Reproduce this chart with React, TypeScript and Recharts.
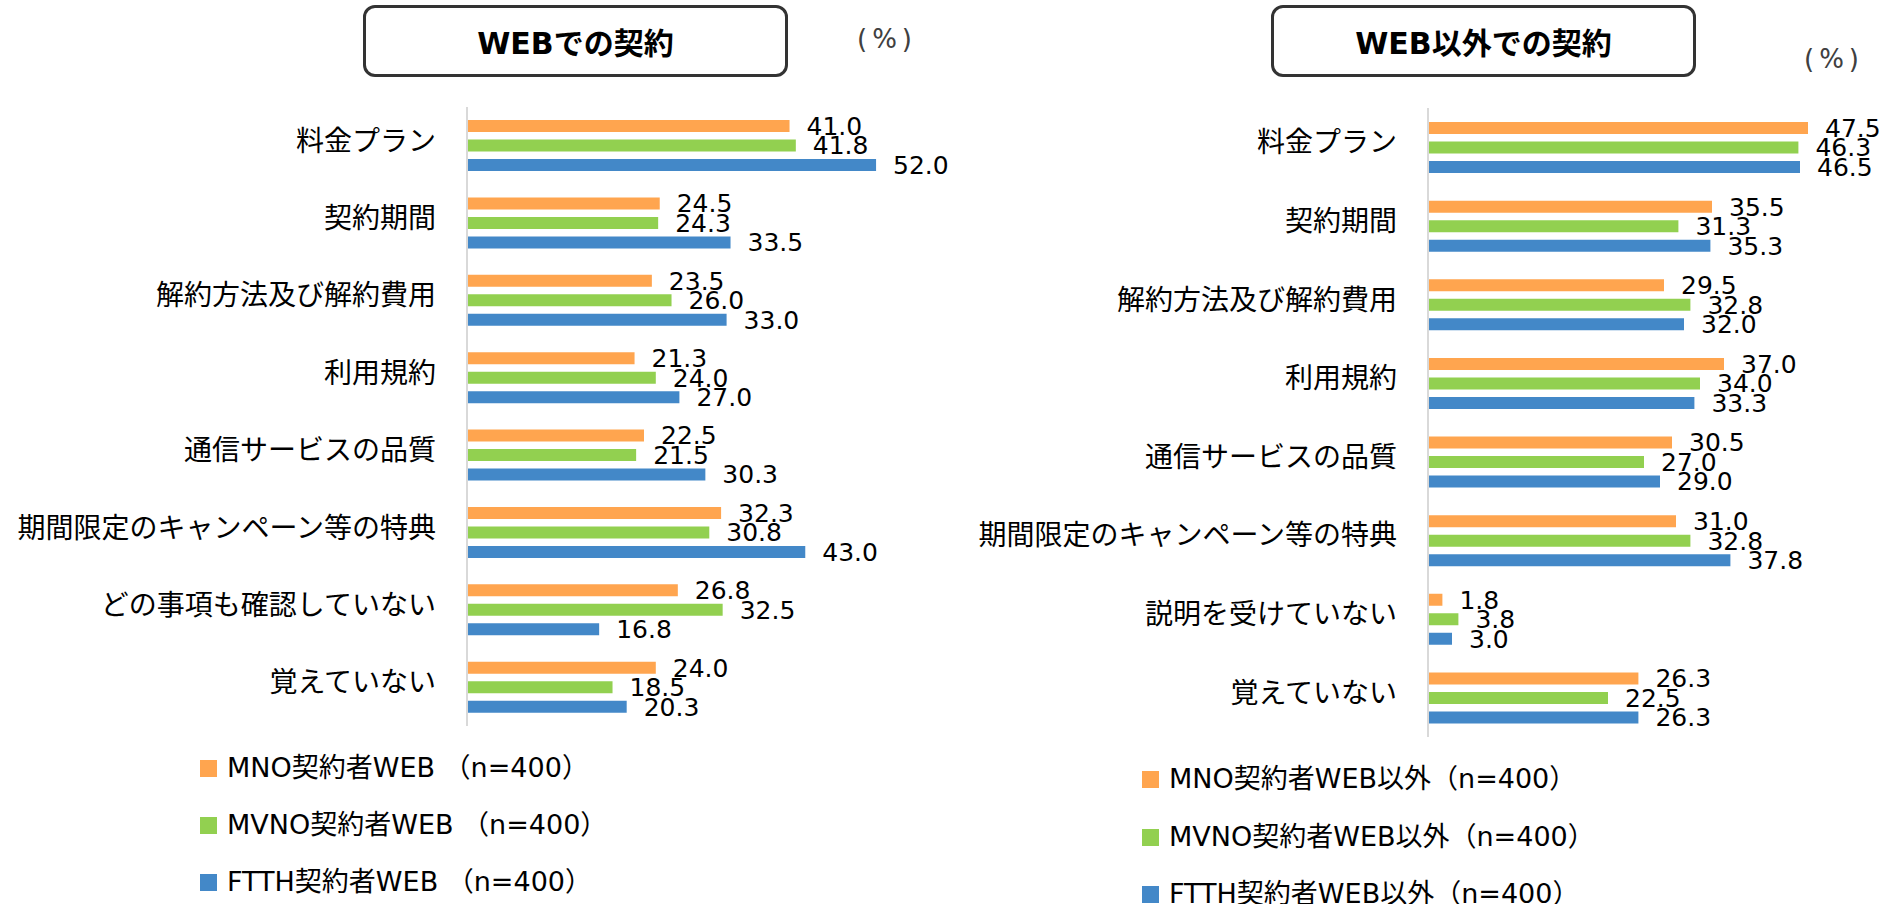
import { BarChart, Bar, XAxis, YAxis, LabelList } from "recharts";

const webCategories = [
  "料金プラン",
  "契約期間",
  "解約方法及び解約費用",
  "利用規約",
  "通信サービスの品質",
  "期間限定のキャンペーン等の特典",
  "どの事項も確認していない",
  "覚えていない",
];
const webMno = [41.0, 24.5, 23.5, 21.3, 22.5, 32.3, 26.8, 24.0];
const webMvno = [41.8, 24.3, 26.0, 24.0, 21.5, 30.8, 32.5, 18.5];
const webFtth = [52.0, 33.5, 33.0, 27.0, 30.3, 43.0, 16.8, 20.3];
const webNames = ["MNO契約者WEB （n=400）", "MVNO契約者WEB （n=400）", "FTTH契約者WEB （n=400）"];

const otherCategories = [
  "料金プラン",
  "契約期間",
  "解約方法及び解約費用",
  "利用規約",
  "通信サービスの品質",
  "期間限定のキャンペーン等の特典",
  "説明を受けていない",
  "覚えていない",
];
const otherMno = [47.5, 35.5, 29.5, 37.0, 30.5, 31.0, 1.8, 26.3];
const otherMvno = [46.3, 31.3, 32.8, 34.0, 27.0, 32.8, 3.8, 22.5];
const otherFtth = [46.5, 35.3, 32.0, 33.3, 29.0, 37.8, 3.0, 26.3];
const otherNames = ["MNO契約者WEB以外（n=400）", "MVNO契約者WEB以外（n=400）", "FTTH契約者WEB以外（n=400）"];

const COLORS = ["#FFA54F", "#92D050", "#4388C8"];
const JP = "'Noto Sans CJK JP', sans-serif";
const NUM = "'DejaVu Sans', 'Noto Sans CJK JP', sans-serif";

const CatTick = ({ x, y, payload }: any) => (
  <text x={x} y={y} dy={5} textAnchor="end" fontSize={28} fontFamily={JP} fill="#000">
    {payload.value}
  </text>
);

interface PanelProps {
  categories: string[];
  series: number[][];
  names: string[];
  max: number;
  width: number;
  height: number;
  margin: { top: number; right: number; bottom: number; left: number };
}

const Panel = ({ categories, series, names, max, width, height, margin }: PanelProps) => {
  const data = categories.map((c, i) => ({ name: c, s0: series[0][i], s1: series[1][i], s2: series[2][i] }));
  return (
    <BarChart
      layout="vertical"
      width={width}
      height={height}
      data={data}
      margin={margin}
      barSize={12}
      barGap={7.5}
    >
      <XAxis type="number" domain={[0, max]} hide />
      <YAxis
        type="category"
        dataKey="name"
        width={460}
        axisLine={{ stroke: "#d9d9d9", strokeWidth: 2 }}
        tickLine={false}
        tickSize={0}
        tickMargin={31}
        tick={<CatTick />}
        interval={0}
      />
      {["s0", "s1", "s2"].map((k, i) => (
        <Bar key={k} dataKey={k} name={names[i]} fill={COLORS[i]} isAnimationActive={false}>
          <LabelList
            dataKey={k}
            position="right"
            offset={17}
            formatter={(v: any) => Number(v).toFixed(1)}
            style={{ fontSize: 25, fontFamily: NUM, fill: "#000" }}
          />
        </Bar>
      ))}
    </BarChart>
  );
};

const TitleBox = ({ left, text }: { left: number; text: string }) => (
  <div
    style={{
      position: "absolute",
      left,
      top: 5,
      width: 425,
      height: 72,
      boxSizing: "border-box",
      border: "3px solid #333",
      borderRadius: 12,
      display: "flex",
      alignItems: "center",
      justifyContent: "center",
      fontFamily: NUM,
      fontWeight: "bold",
      fontSize: 30,
      color: "#000",
    }}
  >
    {text}
  </div>
);

const Unit = ({ cx, cy }: { cx: number; cy: number }) => (
  <div
    style={{
      position: "absolute",
      left: cx - 60,
      top: cy - 15,
      width: 120,
      height: 30,
      lineHeight: "30px",
      textAlign: "center",
      fontFamily: NUM,
      fontSize: 26,
      letterSpacing: 5,
      color: "#404040",
    }}
  >
    (%)
  </div>
);

const LegendBlock = ({ left, top, step, names }: { left: number; top: number; step: number; names: string[] }) => (
  <>
    {names.map((n, i) => (
      <div
        key={n}
        style={{ position: "absolute", left, top: top + i * step, display: "flex", alignItems: "center", height: 17 }}
      >
        <div style={{ width: 17, height: 17, background: COLORS[i], marginRight: 10 }} />
        <span style={{ fontFamily: NUM, fontSize: 27, color: "#000", whiteSpace: "nowrap", position: "relative", top: -3 }}>
          {n}
        </span>
      </div>
    ))}
  </>
);

export default function App() {
  return (
    <div style={{ position: "absolute", left: 0, top: 0, width: 1898, height: 904, background: "#fff", overflow: "hidden" }}>
      <TitleBox left={363} text="WEBでの契約" />
      <TitleBox left={1271} text="WEB以外での契約" />
      <Unit cx={887} cy={39} />
      <Unit cx={1834} cy={59} />

      <div style={{ position: "absolute", left: 0, top: 0 }}>
        <Panel
          categories={webCategories}
          series={[webMno, webMvno, webFtth]}
          names={webNames}
          max={60}
          width={950}
          height={740}
          margin={{ top: 107, right: 11, bottom: 14, left: 7 }}
        />
      </div>
      <div style={{ position: "absolute", left: 950, top: 0 }}>
        <Panel
          categories={otherCategories}
          series={[otherMno, otherMvno, otherFtth]}
          names={otherNames}
          max={50}
          width={948}
          height={760}
          margin={{ top: 108, right: 70, bottom: 23, left: 18 }}
        />
      </div>

      <LegendBlock left={200} top={760} step={57} names={webNames} />
      <LegendBlock left={1142} top={771} step={57.5} names={otherNames} />
    </div>
  );
}
